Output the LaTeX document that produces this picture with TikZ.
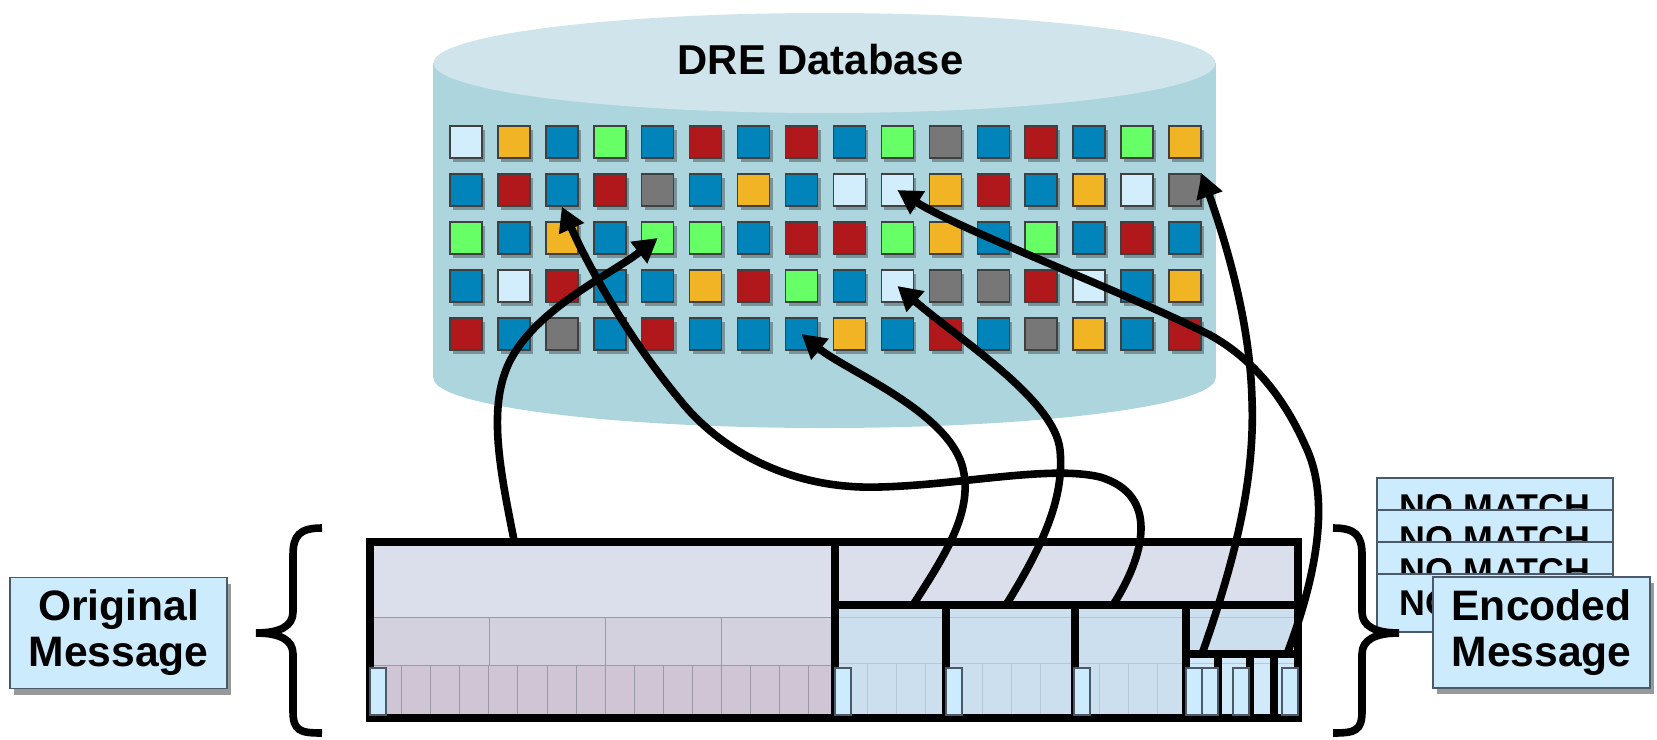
\documentclass[tikz,border=0pt]{standalone}
\usepackage{fontspec}
\setmainfont{Liberation Sans}
\usetikzlibrary{arrows.meta,shadows}
\definecolor{cBlue}{HTML}{0084B9}
\definecolor{cRed}{HTML}{B0181B}
\definecolor{cGreen}{HTML}{66FF66}
\definecolor{cOrange}{HTML}{F0B425}
\definecolor{cGray}{HTML}{777777}
\definecolor{cLight}{HTML}{D2EEFC}
\definecolor{cylTop}{HTML}{CFE5EB}
\definecolor{cylBody}{HTML}{ADD5DD}
\definecolor{barTop}{HTML}{DADFEB}
\definecolor{barMid}{HTML}{D3D1DE}
\definecolor{barLow}{HTML}{D0C5D5}
\definecolor{barRight}{HTML}{CCDFEE}
\definecolor{barSmall}{HTML}{D2E9FA}
\definecolor{labelFill}{HTML}{CCEBFC}
\definecolor{labelLine}{HTML}{4A5A6A}
\definecolor{faintA}{HTML}{9A99A8}
\definecolor{faintB}{HTML}{B4C8DA}
\tikzset{
  sqbox/.style={minimum size=16pt, inner sep=0pt, draw=black!75, line width=0.7pt,
    drop shadow={shadow xshift=1.5pt, shadow yshift=-2pt, opacity=0.3, fill=black}},
  heavy/.style={line width=4pt, black},
  faintl/.style={line width=0.5pt, faintA},
  faintr/.style={line width=0.5pt, faintB},
  marker/.style={fill=labelFill, draw=labelLine, line width=0.7pt},
  conn/.style={line width=3.8pt, black, -{Triangle[length=12pt,width=13pt]}},
  bracel/.style={line width=3.8pt, black},
  labelbox/.style={fill=labelFill, draw=labelLine, line width=0.7pt, align=center,
    minimum width=108.5pt, minimum height=55.5pt, inner sep=0pt,
    font=\fontsize{21.3}{23}\selectfont\bfseries,
    drop shadow={shadow xshift=2pt, shadow yshift=-3pt, opacity=0.4, fill=black}},
  nomatch/.style={fill=labelFill, draw=labelLine, line width=0.8pt,
    minimum width=118pt, minimum height=29pt, inner sep=0pt,
    font=\fontsize{17.9}{20}\selectfont\bfseries}
}
\begin{document}
\begin{tikzpicture}[x=0.5pt,y=-0.5pt]
\useasboundingbox (0,0) rectangle (1657,739);
% database cylinder
\fill[cylBody] (433,63) rectangle (1216,378);
\fill[cylBody] (824.5,378) ellipse [x radius=195.5pt, y radius=25pt];
\fill[cylTop] (824.5,63) ellipse [x radius=195.5pt, y radius=25pt];
\node[font=\fontsize{20.9}{24}\selectfont\bfseries] (dbtitle) at (820.5,60) {DRE Database};
% squares
\foreach \row [count=\r] in {
 {cLight,cOrange,cBlue,cGreen,cBlue,cRed,cBlue,cRed,cBlue,cGreen,cGray,cBlue,cRed,cBlue,cGreen,cOrange},
 {cBlue,cRed,cBlue,cRed,cGray,cBlue,cOrange,cBlue,cLight,cLight,cOrange,cRed,cBlue,cOrange,cLight,cGray},
 {cGreen,cBlue,cOrange,cBlue,cGreen,cGreen,cBlue,cRed,cRed,cGreen,cOrange,cBlue,cGreen,cBlue,cRed,cBlue},
 {cBlue,cLight,cRed,cBlue,cBlue,cOrange,cRed,cGreen,cBlue,cLight,cGray,cGray,cRed,cLight,cBlue,cOrange},
 {cRed,cBlue,cGray,cBlue,cRed,cBlue,cBlue,cBlue,cOrange,cBlue,cRed,cBlue,cGray,cOrange,cBlue,cRed}}
{
  \foreach \c [count=\k] in \row {
    \node[sqbox, fill=\c] (sq-\r-\k) at ({466+47.93*(\k-1)},{142+48*(\r-1)}) {};
  }
}
% message bar fills
\fill[barTop] (370,542) rectangle (835,617);
\fill[barMid] (370,617) rectangle (835,665);
\fill[barLow] (370,665) rectangle (835,718);
\fill[barTop] (835,542) rectangle (1298,605);
\fill[barRight] (835,605) rectangle (1298,718);
\fill[barSmall] (1186,654) rectangle (1298,718);
% faint grid, original part
\draw[faintl] (370,617) -- (835,617) (370,665) -- (835,665);
\foreach \xx in {489,605,721} \draw[faintl] (\xx,617) -- (\xx,665);
\foreach \k in {0,...,14} \draw[faintl] ({401.7+29.06*\k},665) -- ({401.7+29.06*\k},718);
% faint grid, encoded part
\draw[faintr] (835,617) -- (1298,617) (835,663) -- (1186,663) (1186,663) -- (1298,663);
\foreach \xx in {867,896,925,982,1011,1040,1099,1128,1157} \draw[faintr] (\xx,663) -- (\xx,718);
% heavy lines
\draw[heavy] (370,542) rectangle (1298,718);
\draw[heavy] (835,542) -- (835,718);
\draw[heavy] (835,605) -- (1298,605);
\foreach \xx in {946,1074.5,1186} \draw[heavy] (\xx,605) -- (\xx,718);
\draw[heavy] (1186,654) -- (1298,654);
\foreach \xx in {1218,1249.5,1273.5} \draw[heavy] (\xx,654) -- (\xx,718);
% markers
\foreach \xx in {370,835,946,1074,1186,1202,1233,1282}
  \draw[marker] (\xx,668) rectangle (\xx+16,715);
% connector start points
\coordinate (s1) at (514,540);
\coordinate (sA) at (913,605);
\coordinate (sB) at (1006,605);
\coordinate (sC) at (1113,605);
\coordinate (sD) at (1202,654);
\coordinate (sE) at (1287,654);
% connectors
\draw[conn] (s1) .. controls (500,470) and (488,410) .. (508,365)
  .. controls (533,310) and (610,275) .. (sq-3-5.center);
\draw[conn] (sA) .. controls (945,555) and (975,510) .. (962,465)
  .. controls (945,410) and (845,370) .. (sq-5-8.center);
\draw[conn] (sB) .. controls (1040,550) and (1065,500) .. (1060,450)
  .. controls (1055,400) and (960,340) .. (sq-4-10.center);
\draw[conn] (sC) .. controls (1145,555) and (1160,495) .. (1100,477)
  .. controls (1050,465) and (960,485) .. (880,487)
  .. controls (790,490) and (720,450) .. (680,400)
  .. controls (630,340) and (590,270) .. (sq-2-3.south);
\draw[conn] (sD) .. controls (1235,560) and (1255,480) .. (1252,400)
  .. controls (1250,320) and (1225,240) .. (sq-2-16.north east);
\draw[conn] (sE) .. controls (1315,580) and (1332,500) .. (1305,445)
  .. controls (1285,400) and (1255,360) .. (1210,335)
  .. controls (1120,290) and (960,230) .. (sq-2-10.center);
% braces
\draw[bracel] (322,528) .. controls (300,528) and (293,535) .. (293,555) -- (293,612)
  .. controls (293,626) and (280,633) .. (256,633)
  .. controls (280,633) and (293,640) .. (293,654) -- (293,711)
  .. controls (293,731) and (300,733) .. (322,733);
% NO MATCH stack
\node[nomatch] (nm1) at (1495,507) {NO MATCH};
\node[nomatch] (nm2) at (1495,539) {NO MATCH};
\node[nomatch] (nm3) at (1495,571) {NO MATCH};
\node[nomatch] (nm4) at (1495,603) {NO MATCH};
\draw[bracel] (1333,528) .. controls (1355,528) and (1362,535) .. (1362,555) -- (1362,612)
  .. controls (1362,626) and (1375,633) .. (1399,633)
  .. controls (1375,633) and (1362,640) .. (1362,654) -- (1362,711)
  .. controls (1362,731) and (1355,733) .. (1333,733);
% labels
\node[labelbox] (enc) at (1541.5,632.5) {Encoded\\Message};
\node[labelbox] (orig) at (118.5,633) {Original\\Message};
\end{tikzpicture}
\end{document}
